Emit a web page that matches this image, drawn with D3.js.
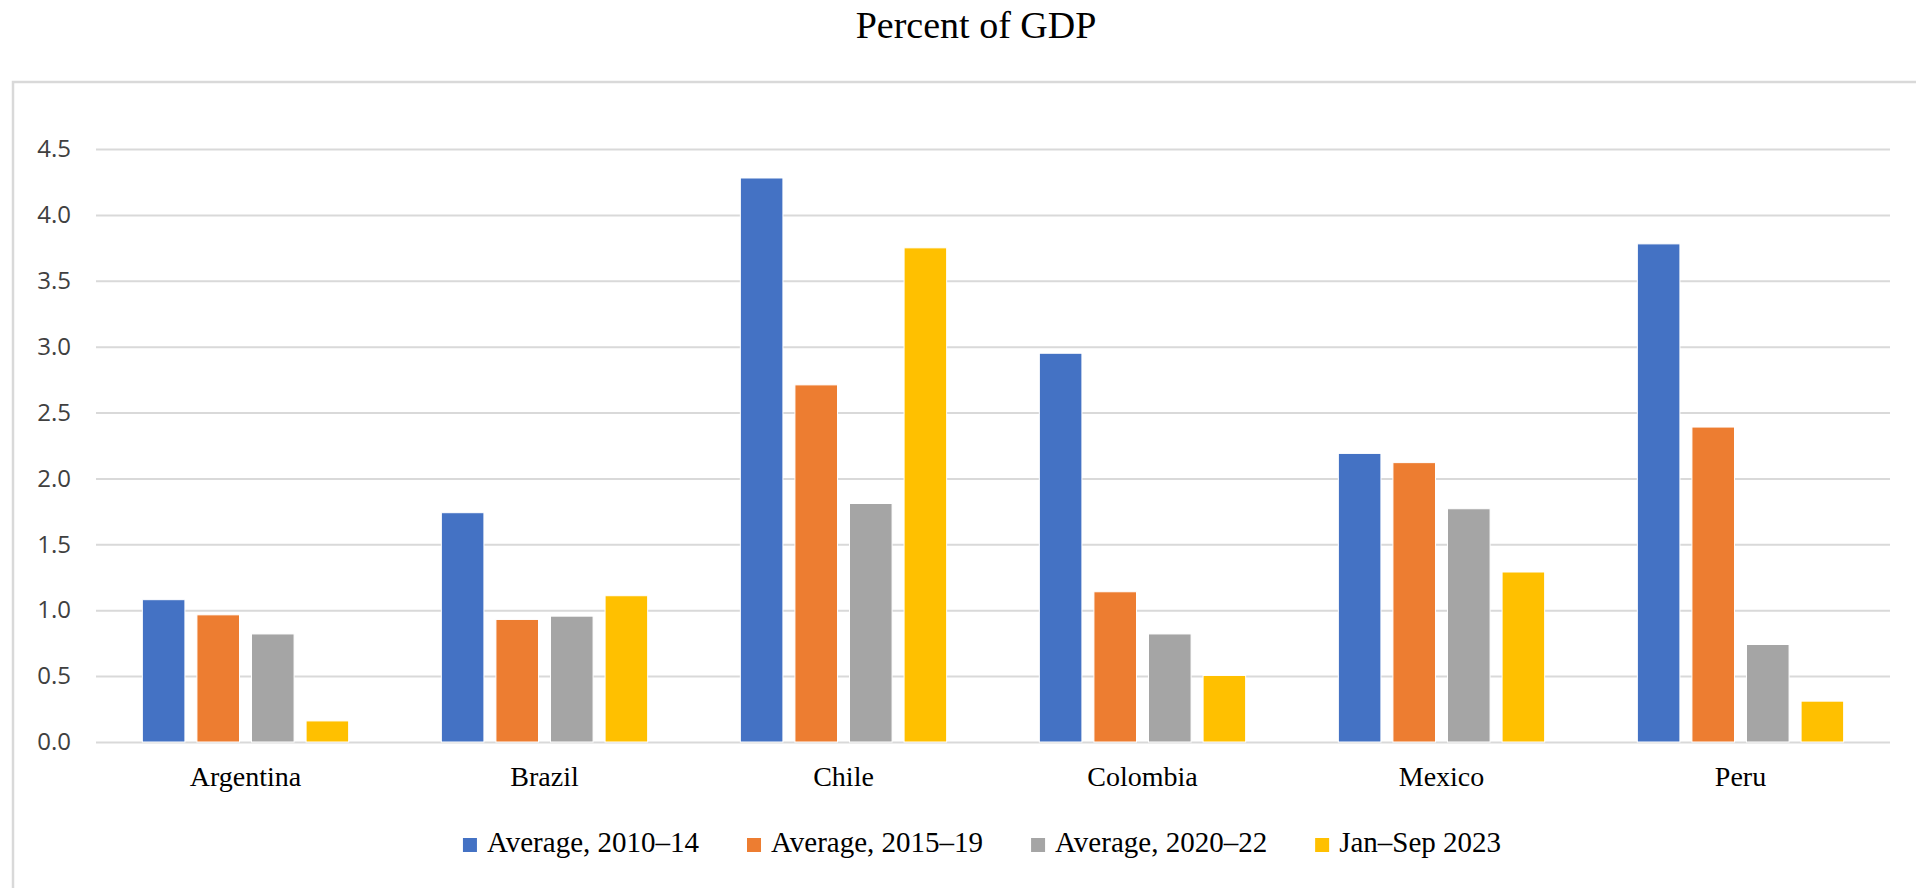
<!DOCTYPE html>
<html>
<head>
<meta charset="utf-8">
<script src="https://cdn.jsdelivr.net/npm/d3@7"></script>
<style>
  html, body { margin: 0; padding: 0; background: #fff; }
  svg { display: block; }
</style>
</head>
<body>
<svg id="chart" width="1916" height="888"></svg>
<script>
// Countries along the horizontal axis
const categories = ["Argentina", "Brazil", "Chile", "Colombia", "Mexico", "Peru"];

// Period averages, percent of GDP
const seriesNames = ["Average, 2010\u201314", "Average, 2015\u201319", "Average, 2020\u201322", "Jan\u2013Sep 2023"];
const avg2010_14 = [1.08, 1.74, 4.28, 2.95, 2.19, 3.78];
const avg2015_19 = [0.965, 0.93, 2.71, 1.14, 2.12, 2.39];
const avg2020_22 = [0.82, 0.955, 1.81, 0.82, 1.77, 0.74];
const janSep2023 = [0.16, 1.11, 3.75, 0.505, 1.29, 0.31];
const seriesValues = [avg2010_14, avg2015_19, avg2020_22, janSep2023];
const seriesColors = ["#4472C4", "#ED7D31", "#A5A5A5", "#FFC000"];

const yTicks = [0, 0.5, 1.0, 1.5, 2.0, 2.5, 3.0, 3.5, 4.0, 4.5];
const title = "Percent of GDP";

const svg = d3.select("#chart");
const W = 1916, H = 888;
const plot = { left: 96, right: 1890, top: 149, bottom: 742 };
const serif = "'Liberation Serif', 'Times New Roman', serif";
const sans = "'Open Sans', 'Noto Sans', sans-serif";

// Outer frame of the chart area
svg.append("rect")
  .attr("x", 13).attr("y", 82)
  .attr("width", W).attr("height", H)
  .attr("fill", "none")
  .attr("stroke", "#d9d9d9")
  .attr("stroke-width", 2.5);

// Title
svg.append("text")
  .attr("x", 976).attr("y", 38)
  .attr("text-anchor", "middle")
  .attr("font-family", serif)
  .attr("font-size", 38)
  .attr("fill", "#000")
  .text(title);

// Scales
const y = d3.scaleLinear().domain([0, 4.5]).range([plot.bottom, plot.top]);
const x0 = d3.scaleBand().domain(categories).range([plot.left, plot.right]).padding(0);
const groupWidth = x0.step() * 0.69;
const x1 = d3.scaleBand().domain(d3.range(seriesNames.length))
  .range([0, groupWidth]).paddingInner(0.22).paddingOuter(0);

// Horizontal gridlines and value labels
const yAxis = d3.axisLeft(y)
  .tickValues(yTicks)
  .tickSize(-(plot.right - plot.left))
  .tickPadding(25)
  .tickFormat(d3.format(".1f"));

const gy = svg.append("g")
  .attr("transform", `translate(${plot.left},0)`)
  .call(yAxis);
gy.select(".domain").remove();
gy.selectAll(".tick line")
  .attr("stroke", "#d9d9d9")
  .attr("stroke-width", 2);
gy.selectAll(".tick text")
  .attr("font-family", sans)
  .attr("font-size", 24)
  .attr("fill", "#404040");

// Bars
const groups = svg.append("g").selectAll("g")
  .data(categories)
  .join("g")
  .attr("transform", d => `translate(${x0(d) + (x0.step() - groupWidth) / 2},0)`);

groups.selectAll("rect")
  .data((c, ci) => seriesValues.map((vals, si) => ({ si, v: vals[ci] })))
  .join("rect")
  .attr("x", d => x1(d.si))
  .attr("width", x1.bandwidth())
  .attr("y", d => y(d.v))
  .attr("height", d => y(0) - y(d.v))
  .attr("fill", d => seriesColors[d.si])
  .attr("stroke", "#ffffff")
  .attr("stroke-width", 1);

// Category labels
const xAxis = d3.axisBottom(x0).tickSize(0).tickPadding(0);
const gx = svg.append("g")
  .attr("transform", `translate(0,${plot.bottom})`)
  .call(xAxis);
gx.select(".domain").remove();
gx.selectAll(".tick text")
  .attr("dy", null)
  .attr("y", 44)
  .attr("font-family", serif)
  .attr("font-size", 28)
  .attr("fill", "#000");

// Legend, centred below the plot
const legend = svg.append("g");
const sw = 14, textGap = 10, entryGap = 48;
let cursor = 0;
seriesNames.forEach((name, i) => {
  const g = legend.append("g").attr("transform", `translate(${cursor},0)`);
  g.append("rect")
    .attr("x", 0).attr("y", -14)
    .attr("width", sw).attr("height", sw)
    .attr("fill", seriesColors[i]);
  const t = g.append("text")
    .attr("x", sw + textGap).attr("y", 0)
    .attr("font-family", serif)
    .attr("font-size", 29)
    .attr("fill", "#000")
    .text(name);
  cursor += sw + textGap + t.node().getComputedTextLength() + entryGap;
});
const legendWidth = cursor - entryGap;
legend.attr("transform", `translate(${982 - legendWidth / 2},852)`);
</script>
</body>
</html>
